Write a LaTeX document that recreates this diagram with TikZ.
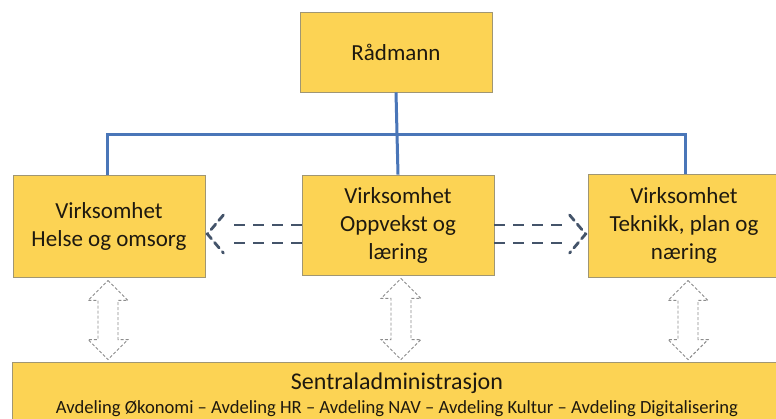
\documentclass[tikz,border=0pt]{standalone}
\usepackage{fontspec}
\setmainfont{Carlito}
\usetikzlibrary{calc}
\definecolor{boxfill}{RGB}{252,211,84}
\definecolor{boxedge}{RGB}{160,150,115}
\definecolor{conncol}{RGB}{74,118,184}
\definecolor{dashcol}{RGB}{68,84,106}
\definecolor{dblcol}{RGB}{140,140,140}
\definecolor{txtcol}{RGB}{30,25,15}
\tikzset{
  orgbox/.style={draw=boxedge, line width=0.8pt, fill=boxfill, text=txtcol,
    align=center, inner sep=0pt, font=\fontsize{23}{28}\selectfont},
  conn/.style={draw=conncol, line width=3pt},
  dasharr/.style={draw=dashcol, line width=2.8pt, dash pattern=on 11pt off 8pt},
  chev/.style={draw=dashcol, line width=2.8pt, dash pattern=on 7pt off 5pt, line cap=round},
  dbl/.style={draw=dblcol, line width=0.9pt, dash pattern=on 3pt off 2pt, fill=white},
}
\begin{document}
\begin{tikzpicture}[x=1pt,y=-1pt]
\useasboundingbox (0,0) rectangle (776,418);
\fill[white] (0,0) rectangle (776,418);

\node[orgbox, minimum width=192pt, minimum height=80pt] (rad) at (396,52) {Rådmann};
\node[orgbox, minimum width=192pt, minimum height=102pt] (helse) at (109,226) {Virksomhet\\Helse og omsorg};
\node[orgbox, minimum width=192pt, minimum height=100pt] (opp) at (398,225) {Virksomhet\\Oppvekst og\\læring};
\node[orgbox, minimum width=192pt, minimum height=103pt] (tek) at (684,225.5) {Virksomhet\\Teknikk, plan og\\næring};
\node[orgbox, minimum width=770pt, minimum height=66pt] (sentral) at (397,395)
  {{\fontsize{24}{25}\selectfont Sentraladministrasjon}\\[-4pt]{\fontsize{18.6}{20}\selectfont Avdeling Økonomi – Avdeling HR – Avdeling NAV – Avdeling Kultur – Avdeling Digitalisering}};

% tree connectors
\coordinate (bus) at (0,134);
\draw[conn] (rad.south) -- (opp.north);
\draw[conn] ($(helse.north)+(-2,0)$) -- ($(helse.north |- bus)+(-2,0)$) -- ($(tek.north |- bus)+(1,0)$) -- ($(tek.north)+(1,0)$);

% dashed double-line arrows
\coordinate (lm) at ($(opp.west)+(0,9)$);
\coordinate (lt) at ($(helse.east)+(2,8)$);
\draw[dasharr] ($(lm)+(0,-9)$) -- ($(lt)+(19,-9)$);
\draw[dasharr] ($(lm)+(0,9)$) -- ($(lt)+(19,9)$);
\draw[chev] ($(lt)+(16,-19)$) -- (lt) -- ($(lt)+(16,19)$);

\coordinate (rm) at ($(opp.east)+(0,9)$);
\coordinate (rt) at ($(tek.west)+(-2,8.5)$);
\draw[dasharr] ($(rm)+(0,-9)$) -- ($(rt)+(-19,-9)$);
\draw[dasharr] ($(rm)+(0,9)$) -- ($(rt)+(-19,9)$);
\draw[chev] ($(rt)+(-16,-19)$) -- (rt) -- ($(rt)+(-16,19)$);

% hollow double arrows
\foreach \n/\dx in {helse/-1, opp/3, tek/4} {
  \coordinate (a) at ($(\n.south)+(\dx,3)$);
  \coordinate (b) at ($(sentral.north -| a)+(0,-2)$);
  \draw[dbl] (a) -- ++(20,20) -- ++(-10,0) -- ($(b)+(10,-20)$) -- ++(10,0) -- (b)
    -- ++(-20,-20) -- ++(10,0) -- ($(a)+(-10,20)$) -- ++(-10,0) -- cycle;
}
\end{tikzpicture}
\end{document}
